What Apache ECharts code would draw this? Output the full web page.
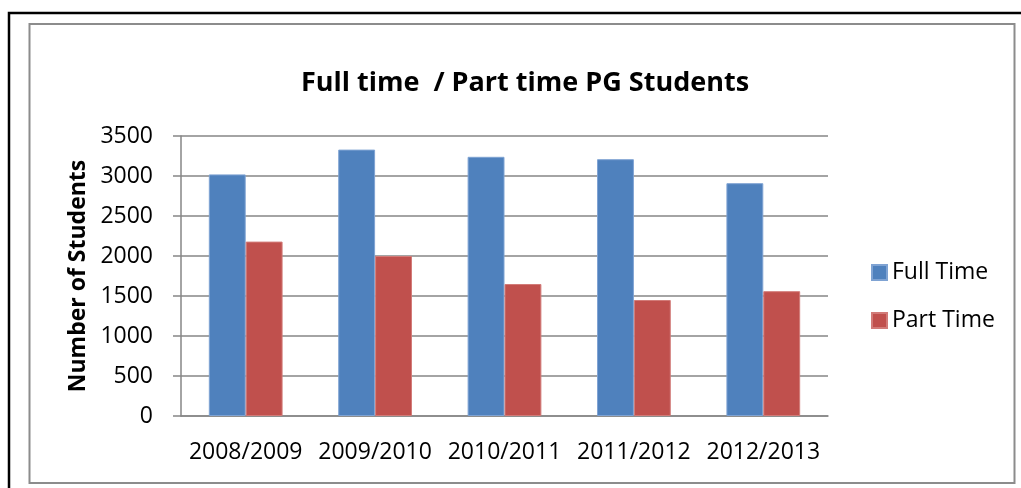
<!DOCTYPE html>
<html>
<head>
<meta charset="UTF-8"/>
<title>Full time / Part time PG Students</title>
<script src="https://cdn.jsdelivr.net/npm/echarts@6/dist/echarts.min.js"></script>
<style>
	html, body { margin: 0; padding: 0; background: #fff; }
	#chart { width: 1021px; height: 488px; }
</style>
</head>
<body>
<div id="chart"></div>
<script type="text/javascript">
	var years = ['2008/2009', '2009/2010', '2010/2011', '2011/2012', '2012/2013'];
	var fullTime = [3020, 3330, 3240, 3210, 2910];
	var partTime = [2180, 2000, 1650, 1450, 1560];
	var yTicks = [0, 500, 1000, 1500, 2000, 2500, 3000, 3500];

	var font = 'Open Sans';
	var gridGray = '#868686';

	var myChart = echarts.init(document.getElementById('chart'));
	var option = {
		animation: false,
		backgroundColor: '#fff',
		graphic: [
			// outer black frame (runs off the right and bottom edges)
			{ type: 'rect', shape: { x: 9, y: 13, width: 1030, height: 490 },
			  style: { fill: 'none', stroke: '#000', lineWidth: 2.5 } },
			// inner chart-area border
			{ type: 'rect', shape: { x: 29.5, y: 24, width: 985, height: 459 },
			  style: { fill: 'none', stroke: '#8c8c8c', lineWidth: 2 } }
		],
		title: {
			text: 'Full time  / Part time PG Students',
			left: 520,
			top: 65,
			textAlign: 'center',
			textStyle: { fontFamily: font, fontWeight: 'bold', fontSize: 27, color: '#000' }
		},
		legend: {
			orient: 'vertical',
			left: 866,
			top: 256,
			itemWidth: 15,
			itemHeight: 15,
			itemGap: 25,
			icon: 'rect',
			textStyle: { fontFamily: font, fontSize: 23, color: '#000', lineHeight: 23 },
			data: ['Full Time', 'Part Time']
		},
		grid: { left: 181, top: 136, width: 647, height: 280 },
		xAxis: {
			type: 'category',
			data: years,
			axisLine: { show: true, lineStyle: { color: gridGray, width: 1.5 } },
			axisTick: { show: false },
			axisLabel: { interval: 0, margin: 25, fontFamily: font, fontSize: 23, color: '#000' }
		},
		yAxis: {
			type: 'value',
			min: yTicks[0],
			max: yTicks[yTicks.length - 1],
			interval: 500,
			name: 'Number of Students',
			nameLocation: 'middle',
			nameGap: 91,
			nameTextStyle: { fontFamily: font, fontWeight: 'bold', fontSize: 23, color: '#000' },
			axisLine: { show: true, lineStyle: { color: gridGray, width: 1.5 } },
			axisTick: { show: true, inside: false, length: 8, lineStyle: { color: gridGray, width: 1.5 } },
			splitLine: { show: true, lineStyle: { color: gridGray, width: 1.5 } },
			axisLabel: {
				margin: 28, fontFamily: font, fontSize: 23, color: '#000',
				formatter: function (v) { return String(v); }
			}
		},
		series: [
			{
				name: 'Full Time',
				type: 'bar',
				data: fullTime,
				barGap: '0%',
				barCategoryGap: '43%',
				itemStyle: { color: '#4F81BD', borderColor: '#7fa3d3', borderWidth: 1 }
			},
			{
				name: 'Part Time',
				type: 'bar',
				data: partTime,
				itemStyle: { color: '#C0504D', borderColor: '#d27b78', borderWidth: 1 }
			}
		]
	};
	myChart.setOption(option);
</script>
</body>
</html>
